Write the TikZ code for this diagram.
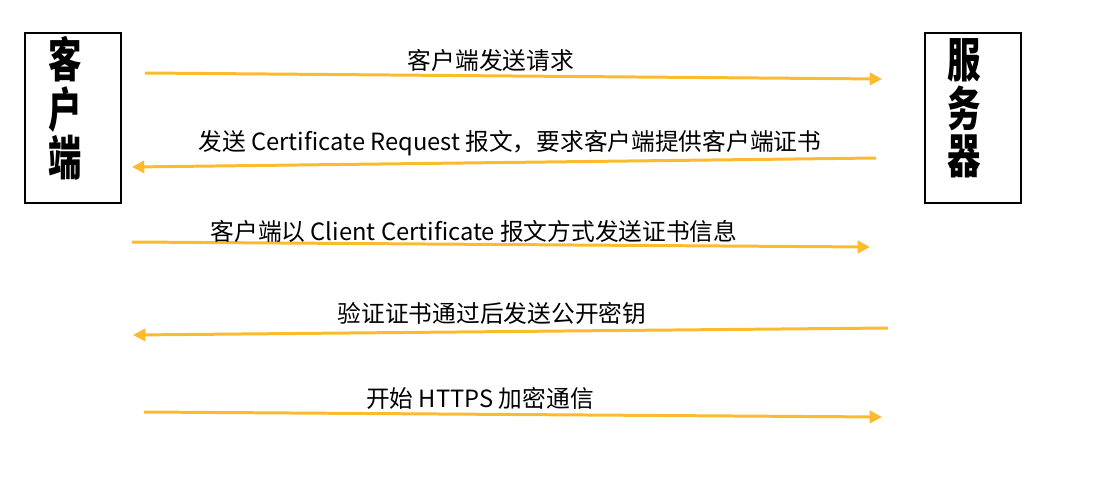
\documentclass[tikz,border=0pt]{standalone}
\usepackage{fontspec}
\setmainfont{Noto Sans CJK SC}
\usepackage{graphicx}
\usetikzlibrary{arrows.meta, positioning}
\definecolor{msgorange}{RGB}{252, 186, 45}
\newcommand{\tallname}[3]{\scalebox{0.95}[1.35]{\begin{tabular}{@{}c@{}}#1\\[-3pt]#2\\[-3pt]#3\end{tabular}}}

\begin{document}
\begin{tikzpicture}[x=0.02cm, y=-0.02cm,
    party/.style={draw, line width=1.2pt, rectangle, minimum width=1.92cm, minimum height=3.4cm, inner sep=0pt},
    partyname/.style={font=\fontsize{20}{22}\selectfont\bfseries, inner sep=0pt},
    msg/.style={draw=msgorange, line width=1.7pt, -{Triangle[length=7pt, width=7pt]}},
    msglabel/.style={font=\fontsize{13.5}{16}\selectfont, inner sep=0pt}]
  \useasboundingbox (0,0) rectangle (1110,484);
  \node[party] (client) at (73,118) {};
  \node[party] (server) at (973,118) {};
  \node[partyname] (clientname) at (65,114) {\tallname{客}{户}{端}};
  \node[partyname] (servername) at (964,114) {\tallname{服}{务}{器}};
  \coordinate (m1a) at (145,73);  \coordinate (m1b) at (882,79);
  \coordinate (m2a) at (876,158); \coordinate (m2b) at (132,167);
  \coordinate (m3a) at (132,242); \coordinate (m3b) at (870,247);
  \coordinate (m4a) at (888,328); \coordinate (m4b) at (133,335);
  \coordinate (m5a) at (144,412); \coordinate (m5b) at (882,417);
  \draw[msg] (m1a) -- (m1b);
  \draw[msg] (m2a) -- (m2b);
  \draw[msg] (m3a) -- (m3b);
  \draw[msg] (m4a) -- (m4b);
  \draw[msg] (m5a) -- (m5b);
  \node[msglabel] (l1) at (491,60) {客户端发送请求};
  \node[msglabel] (l2) at (510,143) {发送 Certificate Request 报文，要求客户端提供客户端证书};
  \node[msglabel] (l3) at (474,231) {客户端以 Client Certificate 报文方式发送证书信息};
  \node[msglabel] (l4) at (492,313) {验证证书通过后发送公开密钥};
  \node[msglabel] (l5) at (480,398) {开始 HTTPS 加密通信};
\end{tikzpicture}
\end{document}
